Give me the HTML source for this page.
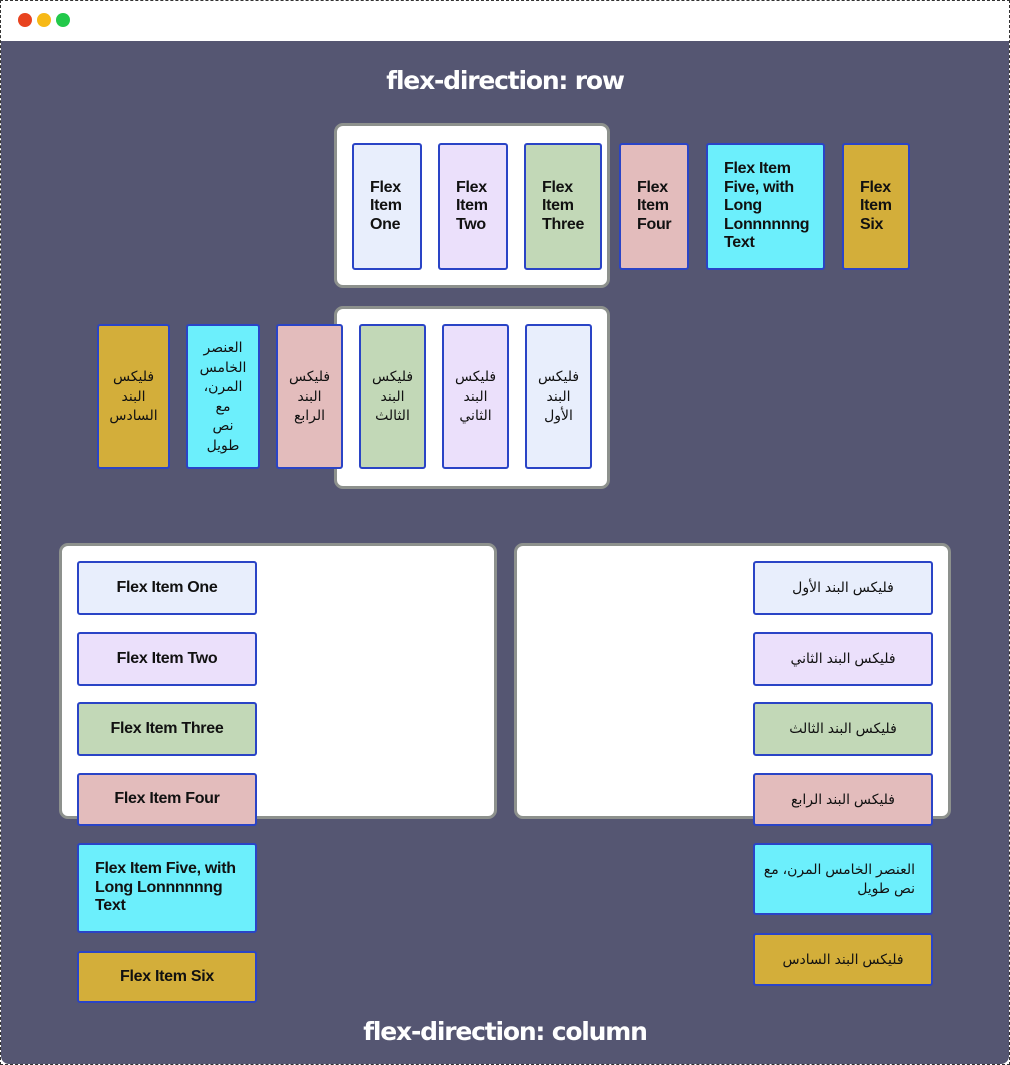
<!DOCTYPE html>
<html><head><meta charset="utf-8"><style>
*{box-sizing:border-box;margin:0;padding:0}
body{width:1010px;height:1065px;position:relative;background:#fff;overflow:hidden;font-family:"Liberation Sans",sans-serif}
.frame{position:absolute;left:0;top:0;width:1010px;height:1065px;border:1px dashed #333}
.bar{position:absolute;left:1px;top:1px;width:1008px;height:40px;background:#fff}
.dot{position:absolute;top:13px;width:14px;height:14px;border-radius:50%}
.main{position:absolute;left:1px;top:41px;width:1008px;height:1023px;background:#555672;border-radius:0 0 8px 8px}
.title{position:absolute;left:0;width:1010px;text-align:center;color:#fff;font-weight:bold;font-size:25px;font-family:"DejaVu Sans",sans-serif;letter-spacing:-1.2px}
.box{position:absolute;background:#fff;border:3px solid #8d918d;border-radius:9px}
.cbox{position:absolute;background:#fff;border:3px solid #8d918d;border-radius:9px}
.it{position:absolute;border:2px solid #2a44c6;border-radius:3px;display:flex;align-items:center;color:#111}
.l{font-weight:bold;font-size:16px;line-height:18.5px;padding-left:16px;letter-spacing:-0.3px}
.a{font-size:14px;line-height:19.5px;direction:rtl;justify-content:center;text-align:center;font-family:"Liberation Sans","DejaVu Sans",sans-serif}
.c{justify-content:center;text-align:center;padding:0}
.c1{background:#e8eefc}.c2{background:#ebe0fb}.c3{background:#c2d8b7}.c4{background:#e3bcbc}.c5{background:#6ceffc}.c6{background:#d3ae3a}
</style></head><body>
<div class="frame"></div>
<div class="bar"></div>
<div class="dot" style="left:18px;background:#e8431f"></div>
<div class="dot" style="left:37px;background:#f7b916"></div>
<div class="dot" style="left:56px;background:#22c94a"></div>
<div class="main"></div>
<div class="title" style="top:66px">flex-direction: row</div>
<div class="title" style="top:1017px">flex-direction: column</div>

<div class="box" style="left:334px;top:123px;width:276px;height:165px"></div>
<div class="it l c1" style="left:352px;top:143px;width:70px;height:127px">Flex<br>Item<br>One</div>
<div class="it l c2" style="left:438px;top:143px;width:70px;height:127px">Flex<br>Item<br>Two</div>
<div class="it l c3" style="left:524px;top:143px;width:78px;height:127px">Flex<br>Item<br>Three</div>
<div class="it l c4" style="left:619px;top:143px;width:70px;height:127px">Flex<br>Item<br>Four</div>
<div class="it l c5" style="left:706px;top:143px;width:119px;height:127px">Flex Item<br>Five, with<br>Long<br>Lonnnnnng<br>Text</div>
<div class="it l c6" style="left:842px;top:143px;width:68px;height:127px">Flex<br>Item<br>Six</div>

<div class="box" style="left:334px;top:306px;width:276px;height:183px"></div>
<div class="it a c1" style="left:525px;top:324px;width:67px;height:145px">فليكس<br>البند<br>الأول</div>
<div class="it a c2" style="left:442px;top:324px;width:67px;height:145px">فليكس<br>البند<br>الثاني</div>
<div class="it a c3" style="left:359px;top:324px;width:67px;height:145px">فليكس<br>البند<br>الثالث</div>
<div class="it a c4" style="left:276px;top:324px;width:67px;height:145px">فليكس<br>البند<br>الرابع</div>
<div class="it a c5" style="left:186px;top:324px;width:74px;height:145px">العنصر<br>الخامس<br>المرن،<br>مع<br>نص<br>طويل</div>
<div class="it a c6" style="left:97px;top:324px;width:73px;height:145px">فليكس<br>البند<br>السادس</div>

<div class="cbox" style="left:59px;top:543px;width:438px;height:276px"></div>
<div class="cbox" style="left:514px;top:543px;width:437px;height:276px"></div>

<div class="it l c c1" style="left:77px;top:561px;width:180px;height:54px">Flex Item One</div>
<div class="it l c c2" style="left:77px;top:632px;width:180px;height:54px">Flex Item Two</div>
<div class="it l c c3" style="left:77px;top:702px;width:180px;height:54px">Flex Item Three</div>
<div class="it l c c4" style="left:77px;top:773px;width:180px;height:53px">Flex Item Four</div>
<div class="it l c5" style="left:77px;top:843px;width:180px;height:90px">Flex Item Five, with<br>Long Lonnnnnng<br>Text</div>
<div class="it l c c6" style="left:77px;top:951px;width:180px;height:52px">Flex Item Six</div>

<div class="it a c1" style="left:753px;top:561px;width:180px;height:54px">فليكس البند الأول</div>
<div class="it a c2" style="left:753px;top:632px;width:180px;height:54px">فليكس البند الثاني</div>
<div class="it a c3" style="left:753px;top:702px;width:180px;height:54px">فليكس البند الثالث</div>
<div class="it a c4" style="left:753px;top:773px;width:180px;height:53px">فليكس البند الرابع</div>
<div class="it a c5" style="left:753px;top:843px;width:180px;height:72px;justify-content:flex-start;text-align:right;padding-right:16px">العنصر الخامس المرن، مع<br>نص طويل</div>
<div class="it a c6" style="left:753px;top:933px;width:180px;height:53px">فليكس البند السادس</div>
</body></html>
